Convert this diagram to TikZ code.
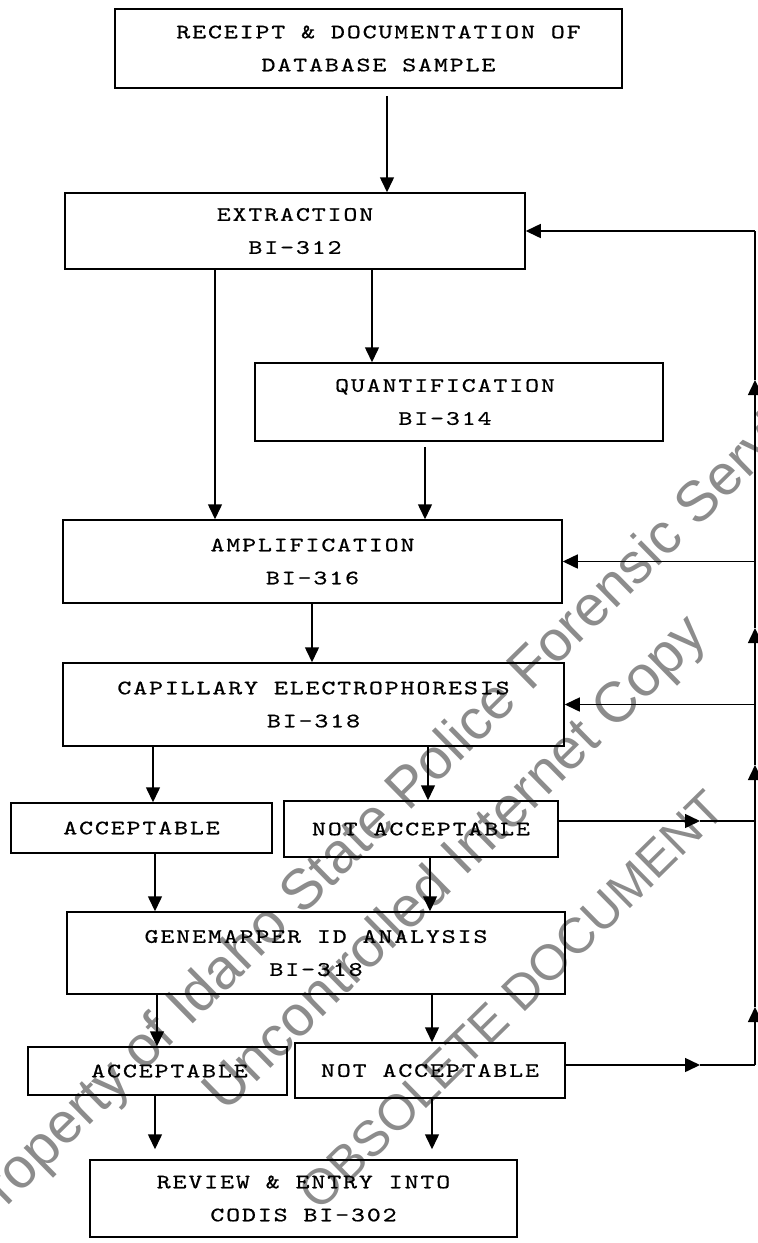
\documentclass[tikz,border=0pt]{standalone}
\usepackage{fontspec}
\newfontfamily\tw[Extension=.otf,FakeStretch=1.3,LetterSpace=9,FakeBold=0.6]{lmmono10-regular}
\newfontfamily\wmfont{Liberation Sans}
\usetikzlibrary{arrows.meta}
\definecolor{wmgray}{RGB}{140,140,140}
\begin{document}
\begin{tikzpicture}[x=1pt,y=-1pt,
  box/.style={draw,line width=1.5pt,inner sep=0pt,align=center,
    font=\tw\fontsize{20.5}{33}\selectfont},
  arr/.style={line width=1.5pt,-{Triangle[length=15pt,width=14pt]}},
  ln/.style={line width=1.5pt},
  wm/.style={text=wmgray,font=\wmfont\fontsize{57}{68}\selectfont,rotate=44.5,inner sep=0pt}
]
\useasboundingbox (0,0) rectangle (758,1243);
\clip (0,0) rectangle (758,1243);
% watermark
\node[wm] (w1) at (406,794) {Property of Idaho State Police Forensic Services};
\node[wm] (w2) at (457,865) {Uncontrolled Internet Copy};
\node[wm,font=\wmfont\fontsize{50}{60}\selectfont] (w3) at (512,1000) {OBSOLETE DOCUMENT};
% boxes
\node[box,minimum width=507pt,minimum height=79pt] (R) at (368.5,48.5) {\hspace*{20pt}RECEIPT \& DOCUMENTATION OF\\\hspace*{20pt}DATABASE SAMPLE};
\node[box,minimum width=460pt,minimum height=76pt] (E) at (295,231) {EXTRACTION\\BI-312};
\node[box,minimum width=408pt,minimum height=78pt] (Q) at (459,402) {QUANTIFICATION\hspace*{28pt}\\BI-314\hspace*{28pt}};
\node[box,minimum width=499pt,minimum height=83pt] (A) at (312.5,561.5) {AMPLIFICATION\\BI-316};
\node[box,minimum width=501pt,minimum height=83pt] (C) at (313.5,704.5) {CAPILLARY ELECTROPHORESIS\\BI-318};
\node[box,minimum width=261pt,minimum height=50pt] (A1) at (141.5,828) {ACCEPTABLE};
\node[box,minimum width=274pt,minimum height=56pt] (N1) at (421,829) {NOT ACCEPTABLE};
\node[box,minimum width=498pt,minimum height=82pt] (G) at (316,953) {GENEMAPPER ID ANALYSIS\\BI-318};
\node[box,minimum width=259pt,minimum height=48pt] (A2) at (157.5,1071) {\hspace*{24pt}ACCEPTABLE};
\node[box,minimum width=270pt,minimum height=55pt] (N2) at (430,1070.5) {NOT ACCEPTABLE};
\node[box,minimum width=427pt,minimum height=77pt] (V) at (303.5,1198.5) {REVIEW \& ENTRY INTO\\CODIS BI-302};
% downward connectors
\draw[arr,shorten <=7pt] (387,0 |- R.south) -- (387,0 |- E.north);
\draw[arr] (372,0 |- E.south) -- (372,0 |- Q.north);
\draw[arr] (215,0 |- E.south) -- (215,0 |- A.north);
\draw[arr,shorten <=5pt] (425,0 |- Q.south) -- (425,0 |- A.north);
\draw[arr] (312,0 |- A.south) -- (312,0 |- C.north);
\draw[arr] (153,0 |- C.south) -- (153,0 |- A1.north);
\draw[arr] (428,0 |- C.south) -- (428,0 |- N1.north);
\draw[arr] (155,0 |- A1.south) -- (155,0 |- G.north);
\draw[arr] (430,0 |- N1.south) -- (430,0 |- G.north);
\draw[arr] (157,0 |- G.south) -- (157,0 |- A2.north);
\draw[arr] (432,0 |- G.south) -- (432,0 |- N2.north);
\draw[arr,shorten >=10pt] (155,0 |- A2.south) -- (155,0 |- V.north);
\draw[arr,shorten >=10pt] (432,0 |- N2.south) -- (432,0 |- V.north);
% feedback loop
\coordinate (r1) at (755,821);
\coordinate (r2) at (755,1065);
\coordinate (m1) at (700,821);
\coordinate (m2) at (700,1065);
\coordinate (u1) at (755,1007);
\coordinate (u2) at (755,765);
\coordinate (u3) at (755,628);
\coordinate (u4) at (755,380);
\coordinate (jE) at (E.east -| r1);
\coordinate (jA) at (A.east -| r1);
\coordinate (jC) at (C.east -| r1);
\draw[arr] (r1 -| N1.east) -- (m1);
\draw[ln] (m1) -- (r1);
\draw[arr] (r2 -| N2.east) -- (m2);
\draw[ln] (m2) -- (r2);
\draw[arr] (r2) -- (u1);
\draw[ln] (u1) -- (r1);
\draw[arr] (r1) -- (u2);
\draw[ln] (u2) -- (jC);
\draw[arr] (jC) -- (u3);
\draw[ln] (u3) -- (jA);
\draw[arr] (jA) -- (u4);
\draw[ln] (u4) -- (jE);
\draw[arr] (jE) -- (E.east);
\draw[arr] (jA) -- (A.east);
\draw[arr] (jC) -- (C.east);
\end{tikzpicture}
\end{document}
